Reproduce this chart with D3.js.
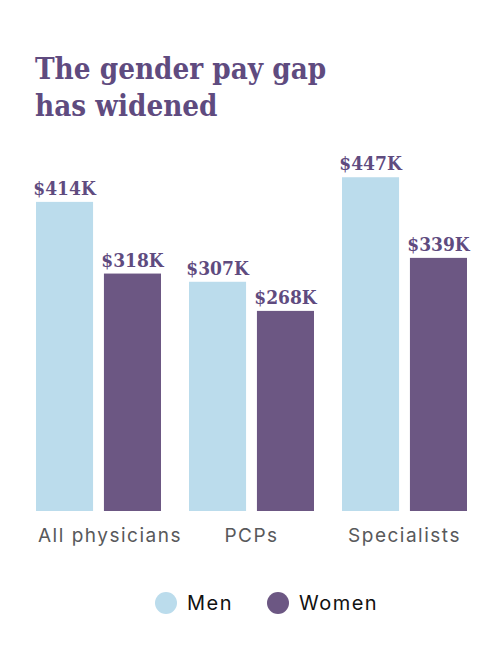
<!DOCTYPE html>
<html>
<head>
<meta charset="utf-8">
<script src="https://cdn.jsdelivr.net/npm/d3@7"></script>
<style>
  body { margin: 0; background: #fff; }
</style>
</head>
<body>
<svg id="chart"></svg>
<script>
// Data
const categories = ['All physicians', 'PCPs', 'Specialists'];
const seriesNames = ['Men', 'Women'];
const menPay = [414, 307, 447];
const womenPay = [318, 268, 339];
const titleLines = ['The gender pay gap', 'has widened'];

const width = 500;
const height = 653;
const colors = { Men: '#bbdcec', Women: '#6c5783' };
const purple = '#5f4b7f';
const slab = "'DejaVu Serif Condensed', 'DejaVu Serif', serif";
const sans = "'Inter', 'Open Sans', sans-serif";

const svg = d3.select('#chart')
  .attr('width', width)
  .attr('height', height);

// Title
svg.append('g')
  .selectAll('text')
  .data(titleLines)
  .join('text')
  .attr('x', 35)
  .attr('y', (d, i) => 79 + i * 37)
  .attr('fill', purple)
  .attr('font-family', slab)
  .attr('font-weight', 'bold')
  .attr('font-size', 29.3)
  .text((d) => d);

// Scales
const x0 = d3.scaleBand()
  .domain(categories)
  .range([36, 467])
  .paddingInner(0.183);

const x1 = d3.scaleBand()
  .domain(seriesNames)
  .range([0, x0.bandwidth()])
  .paddingInner(0.16);

const y = d3.scaleLinear()
  .domain([0, 450])
  .range([511, 175]);

const rows = categories.map((c, i) => ({
  category: c,
  values: [
    { key: 'Men', value: menPay[i] },
    { key: 'Women', value: womenPay[i] },
  ],
}));

const groups = svg.append('g')
  .selectAll('g')
  .data(rows)
  .join('g')
  .attr('transform', (d) => `translate(${x0(d.category)},0)`);

groups.selectAll('rect')
  .data((d) => d.values)
  .join('rect')
  .attr('x', (d) => x1(d.key))
  .attr('y', (d) => y(d.value))
  .attr('width', x1.bandwidth())
  .attr('height', (d) => y(0) - y(d.value))
  .attr('fill', (d) => colors[d.key]);

// Value labels
groups.selectAll('text.value')
  .data((d) => d.values)
  .join('text')
  .attr('class', 'value')
  .attr('x', (d) => x1(d.key) + x1.bandwidth() / 2)
  .attr('y', (d) => y(d.value) - 7)
  .attr('text-anchor', 'middle')
  .attr('fill', purple)
  .attr('font-family', slab)
  .attr('font-weight', 'bold')
  .attr('font-size', 19)
  .text((d) => `$${d.value}K`);

// Category labels (axis without lines)
const axis = svg.append('g')
  .attr('transform', `translate(0,${y(0)})`)
  .call(d3.axisBottom(x0).tickSize(0).tickPadding(31));
axis.select('.domain').remove();
axis.selectAll('text')
  .attr('fill', '#58595b')
  .attr('font-family', sans)
  .attr('font-size', 19)
  .attr('letter-spacing', 1.5)
  .attr('dy', 0)
  .each(function () {
    // keep labels from hanging past the left edge of the first bar
    const el = d3.select(this);
    const tick = d3.select(this.parentNode);
    const cx = +tick.attr('transform').match(/translate\(([^,]+)/)[1];
    const w = this.getComputedTextLength();
    const left = x0.range()[0] + 2;
    if (cx - w / 2 < left) el.attr('x', left + w / 2 - cx);
  });

// Legend
const legend = svg.append('g')
  .selectAll('g')
  .data(seriesNames)
  .join('g')
  .attr('transform', (d, i) => `translate(${166 + i * 112},603)`);

legend.append('circle')
  .attr('r', 11)
  .attr('fill', (d) => colors[d]);

legend.append('text')
  .attr('x', 21)
  .attr('y', 7)
  .attr('fill', '#111')
  .attr('font-family', sans)
  .attr('font-size', 20)
  .attr('letter-spacing', 1.5)
  .text((d) => d);
</script>
</body>
</html>
